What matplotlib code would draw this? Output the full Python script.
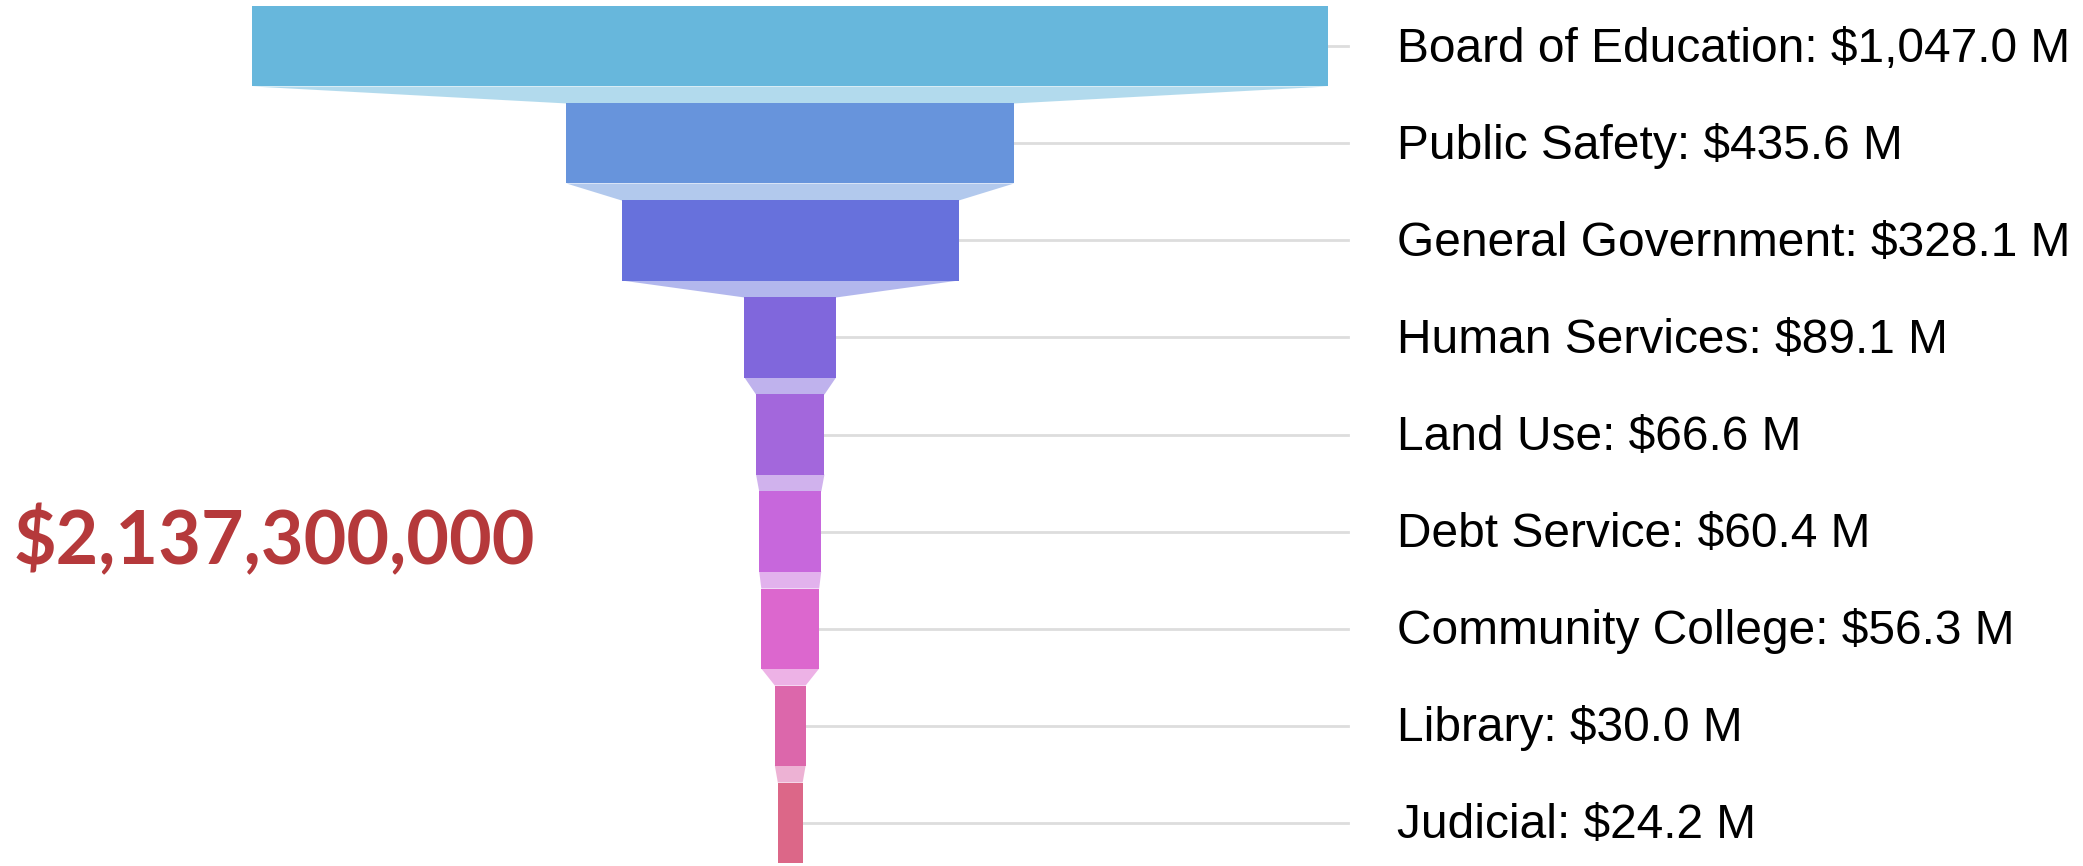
import numpy as np
import matplotlib
matplotlib.use('Agg')
from matplotlib import pyplot as plt
from matplotlib.patches import Polygon, Rectangle

# budget departments, values in $ millions
departments = ['Board of Education', 'Public Safety', 'General Government',
               'Human Services', 'Land Use', 'Debt Service',
               'Community College', 'Library', 'Judicial']
values = [1047.0, 435.6, 328.1, 89.1, 66.6, 60.4, 56.3, 30.0, 24.2]
colors = ['#67b7dc', '#6794dc', '#6771dc', '#8067dc', '#a367dc',
          '#c767dc', '#dc67ce', '#dc67ab', '#dc6788']
total_text = '$2,137,300,000'


def main():
    fig = plt.figure(figsize=(20.83, 8.66), dpi=100)
    ax = fig.add_axes([0, 0, 1, 1])
    ax.set_xlim(-769, 1258)
    ax.set_ylim(8.448, -0.479)
    ax.axis('off')

    h = 0.825  # bar height in row units
    label_x = 590
    line_end = 543

    for i, (name, v) in enumerate(zip(departments, values)):
        # tick line from slice to label
        ax.plot([v / 2, line_end], [i, i], color='#dddddd', lw=2, zorder=1)
        # slice
        ax.add_patch(Rectangle((-v / 2, i - h / 2), v, h,
                               facecolor=colors[i], edgecolor='none', zorder=3))
        # link to next slice
        if i < len(values) - 1:
            v2 = values[i + 1]
            y0 = i + h / 2
            y1 = i + 1 - h / 2
            pts = [(-v / 2, y0), (v / 2, y0), (v2 / 2, y1), (-v2 / 2, y1)]
            ax.add_patch(Polygon(pts, closed=True, facecolor=colors[i],
                                 alpha=0.5, edgecolor='none', zorder=2))
        ax.text(label_x, i + 0.03, f'{name}: ${v:,.1f} M', fontsize=34.5,
                family='Liberation Sans', va='center', ha='left', color='black')

    # total
    ax.text(-756, 5.1, total_text, fontsize=53, family='Lato',
            fontweight='bold', color='#b5393b', va='center', ha='left')

    fig.savefig('out.png', dpi=100)


if __name__ == "__main__":
    main()
